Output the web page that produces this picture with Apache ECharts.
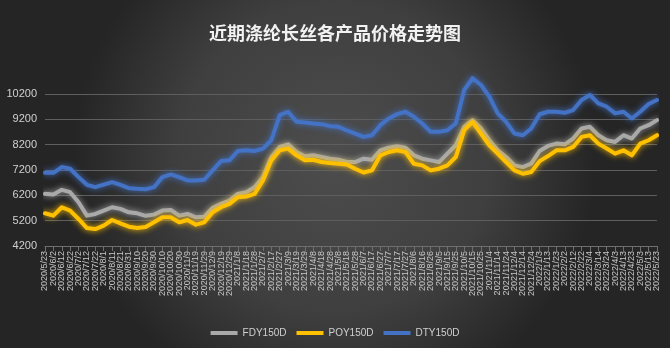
<!DOCTYPE html>
<html><head><meta charset="utf-8">
<script src="https://cdn.jsdelivr.net/npm/echarts@6/dist/echarts.min.js"></script>
<style>html,body{margin:0;padding:0;}#c{width:670px;height:348px;}</style>
</head><body><div id="c"></div>
<script>
const titleText = '近期涤纶长丝各产品价格走势图';
const categories = ['2020/5/23','2020/6/2','2020/6/12','2020/6/22','2020/7/2','2020/7/12','2020/7/22','2020/8/1','2020/8/11','2020/8/21','2020/8/31','2020/9/10','2020/9/20','2020/9/30','2020/10/10','2020/10/20','2020/10/30','2020/11/9','2020/11/19','2020/11/29','2020/12/9','2020/12/19','2020/12/29','2021/1/8','2021/1/18','2021/1/28','2021/2/7','2021/2/17','2021/2/27','2021/3/9','2021/3/19','2021/3/29','2021/4/8','2021/4/18','2021/4/28','2021/5/8','2021/5/18','2021/5/28','2021/6/7','2021/6/17','2021/6/27','2021/7/7','2021/7/17','2021/7/27','2021/8/6','2021/8/16','2021/8/26','2021/9/5','2021/9/15','2021/9/25','2021/10/5','2021/10/15','2021/10/25','2021/11/4','2021/11/14','2021/11/24','2021/12/4','2021/12/14','2021/12/24','2022/1/3','2022/1/13','2022/1/23','2022/2/2','2022/2/12','2022/2/22','2022/3/4','2022/3/14','2022/3/24','2022/4/3','2022/4/13','2022/4/23','2022/5/3','2022/5/13','2022/5/23'];
const fdy150d = [6259,6232,6418,6324,5927,5399,5465,5597,5730,5664,5531,5491,5390,5438,5597,5623,5399,5465,5332,5359,5703,5862,5994,6259,6324,6522,6918,7712,8109,8215,7910,7739,7779,7712,7646,7606,7514,7514,7646,7606,7978,8083,8136,8083,7779,7646,7581,7514,7850,8176,8904,9168,8838,8375,7978,7712,7382,7315,7448,7950,8150,8242,8215,8441,8838,8904,8573,8375,8308,8573,8441,8838,8970,9168];
const poy150d = [5491,5399,5730,5597,5267,4908,4869,5002,5227,5095,4962,4908,4950,5134,5332,5332,5134,5227,5042,5134,5531,5730,5862,6127,6150,6259,6788,7581,7978,8045,7779,7581,7606,7514,7474,7448,7420,7250,7100,7184,7779,7910,7978,7910,7448,7382,7184,7250,7380,7712,8771,9102,8639,8176,7846,7514,7184,7052,7118,7550,7750,7978,7978,8109,8506,8573,8242,8045,7846,7978,7779,8242,8375,8573];
const dty150d = [7093,7090,7316,7250,6918,6615,6522,6620,6720,6615,6483,6456,6440,6522,6918,7026,6918,6788,6788,6815,7184,7553,7581,7950,7978,7950,8045,8375,9367,9499,9102,9076,9036,9010,8930,8904,8760,8639,8506,8573,8970,9235,9406,9499,9301,9036,8705,8705,8771,9036,10359,10823,10557,10093,9434,9102,8639,8573,8838,9400,9499,9499,9460,9565,9962,10160,9831,9698,9434,9499,9235,9499,9803,9962];
const yTicks = [4200,5200,6200,7200,8200,9200,10200];

function mk(name, data, color){
  return {name:name,type:'line',data:data,symbol:'none',clip:false,smooth:false,
    lineStyle:{width:4,color:color,shadowColor:color,shadowBlur:6,cap:'round',join:'round'},
    itemStyle:{color:color}};
}
const chart = echarts.init(document.getElementById('c'));
chart.setOption({
  backgroundColor:{type:'radial',x:0.5,y:0.45,r:0.75,colorStops:[{offset:0,color:'#4d4d4d'},{offset:0.6,color:'#3f3f3f'},{offset:1,color:'#252525'}]},
  animation:false,
  title:{text:titleText,left:'center',top:19,textStyle:{color:'#f2f2f2',fontSize:18,fontWeight:'bold',fontFamily:'Noto Sans CJK SC'}},
  legend:{bottom:5,left:'center',itemWidth:27,itemHeight:4,itemGap:10,icon:'rect',
    textStyle:{color:'#d0d0d0',fontSize:10,fontFamily:'Liberation Sans'},
    data:['FDY150D','POY150D','DTY150D']},
  grid:{left:45,right:13,top:94,bottom:102},
  xAxis:{type:'category',data:categories,boundaryGap:false,
    axisLine:{lineStyle:{color:'#6e6e6e'}},
    axisTick:{show:true,length:5,interval:0,lineStyle:{color:'#6e6e6e'}},
    axisLabel:{interval:0,rotate:90,fontSize:9,color:'#c8c8c8',fontFamily:'Liberation Sans',margin:5}},
  yAxis:{type:'value',min:yTicks[0],max:yTicks[yTicks.length-1],interval:1000,
    axisLine:{show:false},axisTick:{show:false},
    axisLabel:{color:'#d0d0d0',fontSize:11,fontFamily:'Liberation Sans',margin:8,formatter:function(v){return String(v);}},
    splitLine:{lineStyle:{color:'#5e5e5e',width:1}}},
  series:[mk('FDY150D',fdy150d,'#a9a9a9'),mk('POY150D',poy150d,'#ffc000'),mk('DTY150D',dty150d,'#4472c4')]
});
</script></body></html>
